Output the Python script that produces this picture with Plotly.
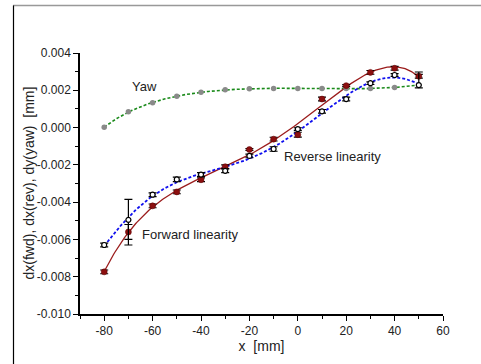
import numpy as np
import plotly.graph_objects as go

x_pos = [-80, -70, -60, -50, -40, -30, -20, -10, 0, 10, 20, 30, 40, 50]

yaw = [0.00002, 0.00085, 0.00133, 0.00168, 0.00190, 0.00203, 0.00208, 0.00210,
       0.00210, 0.00210, 0.00209, 0.00209, 0.00215, 0.00228]

fwd = [-0.00774, -0.00560, -0.00420, -0.00345, -0.00280, -0.00210, -0.00118, -0.00062,
       -0.00038, 0.00153, 0.00225, 0.00296, 0.00318, 0.00275]
fwd_err = [0.0001, 0.0004, 0.0001, 0.0001, 0.0001, 0.0001, 0.00005, 0.0001,
           0.00013, 0.0001, 0.00005, 0.0001, 0.0001, 0.0001]

rev = [-0.00630, -0.00495, -0.00360, -0.00278, -0.00252, -0.00232, -0.00152, -0.00115,
       -0.00008, 0.00087, 0.00153, 0.00238, 0.00282, 0.00228]
rev_err_plus = [0.0001, 0.00110, 0.0001, 0.00012, 0.0001, 0.0001, 0.0001, 0.00012,
                0.00007, 0.0001, 0.0001, 0.00007, 0.00007, 0.00070]
rev_err_minus = [0.0001, 0.00135, 0.0001, 0.00012, 0.0001, 0.0001, 0.0001, 0.00012,
                 0.00007, 0.0001, 0.0001, 0.00007, 0.00007, 0.00015]

x_ticks = [-80, -60, -40, -20, 0, 20, 40, 60]
x_tick_text = ["-80", "-60", "-40", "-20", "0", "20", "40", "60"]
y_ticks = [0.004, 0.002, 0.0, -0.002, -0.004, -0.006, -0.008, -0.010]
y_tick_text = ["0.004", "0.002", "0.000", "-0.002", "-0.004", "-0.006", "-0.008", "-0.010"]

labels = [("Yaw", -63.5, 0.00222), ("Reverse linearity", 14.5, -0.00157),
          ("Forward linearity", -44.2, -0.00573)]

xs = np.linspace(min(x_pos), max(x_pos), 300)


def fit(y, deg):
    c = np.polyfit(x_pos, y, deg)
    return np.polyval(c, xs)


FONT = "Liberation Sans, Arial, sans-serif"
fig = go.Figure()

# fitted curves
fig.add_trace(go.Scatter(x=xs, y=fit(yaw, 6), mode="lines",
                         line=dict(color="#1a8a1a", width=1.6, dash="3px,2px"), hoverinfo="skip"))
fig.add_trace(go.Scatter(x=xs, y=fit(fwd, 6), mode="lines",
                         line=dict(color="#9b1c1c", width=1.3), hoverinfo="skip"))
fig.add_trace(go.Scatter(x=xs, y=fit(rev, 6), mode="lines",
                         line=dict(color="#1010ee", width=1.8, dash="3px,2px"), hoverinfo="skip"))

# data points
fig.add_trace(go.Scatter(x=x_pos, y=yaw, mode="markers",
                         marker=dict(symbol="circle", size=5.5, color="#8a8a8a")))
fig.add_trace(go.Scatter(x=x_pos, y=fwd, mode="markers",
                         error_y=dict(type="data", array=fwd_err, color="black", thickness=1.2, width=4),
                         marker=dict(symbol="circle", size=6, color="#8b0f0f",
                                     line=dict(color="#5a0000", width=0.5))))
fig.add_trace(go.Scatter(x=x_pos, y=rev, mode="markers",
                         error_y=dict(type="data", array=rev_err_plus, arrayminus=rev_err_minus,
                                      symmetric=False, color="black", thickness=1.2, width=4),
                         marker=dict(symbol="circle", size=5, color="white",
                                     line=dict(color="black", width=1.2))))

for txt, ax, ay in labels:
    fig.add_annotation(x=ax, y=ay, text=txt, showarrow=False,
                       font=dict(family=FONT, size=13, color="#222"))

W, H = 481, 364
ml, mr, mt, mb = 80, 38, 53, 47
pw, ph = W - ml - mr, H - mt - mb

# y-axis title as rotated text
fig.add_annotation(xref="paper", yref="paper", x=(28 - ml) / pw, y=0.5, xanchor="center",
                   yanchor="middle", textangle=-90, showarrow=False,
                   text="dx(fwd), dx(rev), dy(yaw)  [mm]",
                   font=dict(family=FONT, size=14, color="#222"))

# outer frame lines (top and left)
fig.add_shape(type="line", xref="paper", yref="paper",
              x0=(13 - ml) / pw, x1=(W - ml) / pw, y0=(H - mb - 5) / ph, y1=(H - mb - 5) / ph,
              line=dict(color="#999", width=1.5))
fig.add_shape(type="line", xref="paper", yref="paper",
              x0=(13.5 - ml) / pw, x1=(13.5 - ml) / pw, y0=(H - mb - 5) / ph, y1=-mb / ph - 0.05,
              line=dict(color="black", width=1.2))

axis_common = dict(showgrid=False, zeroline=False, showline=True, linecolor="black", linewidth=1.5,
                   ticks="outside", ticklen=5, tickwidth=1, tickcolor="black", mirror=False,
                   tickfont=dict(family=FONT, size=12, color="#222"))
fig.update_xaxes(range=[-90, 60], tickvals=x_ticks, ticktext=x_tick_text,
                 minor=dict(dtick=10, tick0=0, ticklen=3, ticks="outside", tickcolor="black"),
                 title=dict(text="x  [mm]", font=dict(family=FONT, size=14, color="#222"), standoff=4),
                 **axis_common)
fig.update_yaxes(range=[-0.010, 0.004], tickvals=y_ticks, ticktext=y_tick_text,
                 minor=dict(dtick=0.001, tick0=0, ticklen=3, ticks="outside", tickcolor="black"),
                 **axis_common)

fig.update_layout(width=W, height=H, margin=dict(l=ml, r=mr, t=mt, b=mb),
                  plot_bgcolor="white", paper_bgcolor="white", showlegend=False,
                  font=dict(family=FONT))
fig.write_html("out.html", config={"displayModeBar": False})
